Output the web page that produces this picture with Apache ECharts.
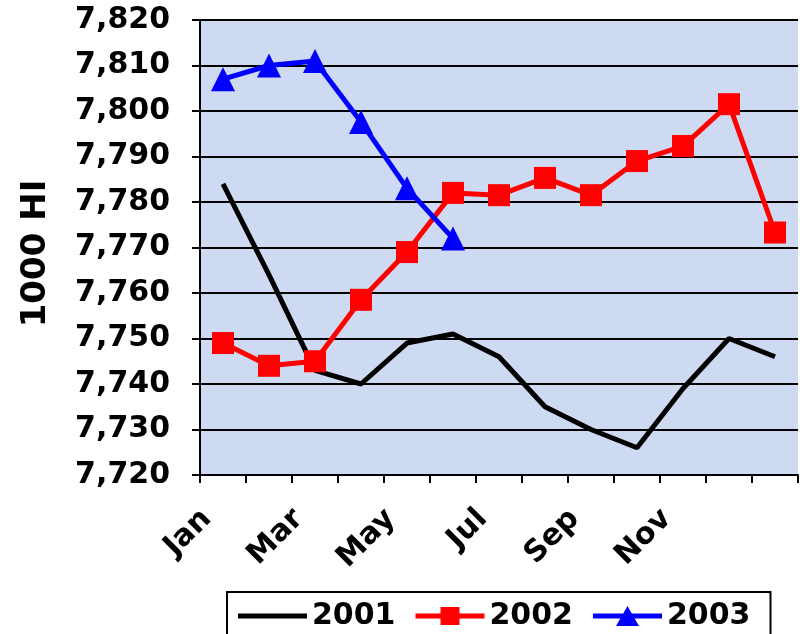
<!DOCTYPE html>
<html><head><meta charset="utf-8">
<script src="https://cdn.jsdelivr.net/npm/echarts@6/dist/echarts.min.js"></script>
<style>html,body{margin:0;padding:0;background:#fff}#c{width:800px;height:634px}</style>
</head><body><div id="c"></div>
<script>
const categories = ['Jan','Feb','Mar','Apr','May','Jun','Jul','Aug','Sep','Oct','Nov','Dec',''];
const s2001 = [7784, 7764, 7743, 7740, 7749, 7751, 7746, 7735, 7730, 7726, 7739, 7750, 7746];
const s2002 = [7749, 7744, 7745, 7758.5, 7769, 7782, 7781.5, 7785.3, 7781.5, 7789, 7792.3, 7801.5, 7773.3];
const s2003 = [7807, 7810, 7811, 7797.6, 7783, 7772];
const seriesNames = ['2001', '2002', '2003'];
const yMin = 7720, yMax = 7820, yStep = 10;
const yTitle = '1000 HI';

const font = 'DejaVu Sans';
// legend icons drawn in a 69x22 box (tiny corner dots keep the box size)
const box = 'M0,0h0.01v0.01h-0.01Z M69,22h-0.01v-0.01h0.01Z ';
const lineBar = 'M0,8.5H69V13.5H0Z ';
const icons = {
  '2001': 'path://' + box + lineBar,
  '2002': 'path://' + box + lineBar + 'M25,2H44V20H25Z',
  '2003': 'path://' + box + lineBar + 'M34.5,1L46,21L23,21Z'
};

const chart = echarts.init(document.getElementById('c'), null, {renderer: 'canvas'});
chart.setOption({
  animation: false,
  backgroundColor: '#ffffff',
  grid: {left: 200, top: 20, width: 598, height: 455, show: true, backgroundColor: '#cedaf2', borderWidth: 0},
  legend: {
    left: 227, top: 592, padding: [9, 20, 30, 11],
    borderColor: '#000', borderWidth: 2, itemWidth: 69, itemHeight: 22, itemGap: 20,
    symbolKeepAspect: false, selectedMode: false,
    textStyle: {fontSize: 30, fontWeight: 'bold', fontFamily: font, color: '#000'},
    data: seriesNames.map(n => ({name: n, icon: icons[n]}))
  },
  xAxis: {
    type: 'category', data: categories, boundaryGap: true,
    axisLine: {lineStyle: {color: '#000', width: 2}},
    axisTick: {show: true, interval: 0, length: 8, lineStyle: {color: '#000', width: 2}},
    axisLabel: {interval: 1, rotate: 45, margin: 23, padding: [0, 23, 0, 0],
      fontSize: 30, fontWeight: 'bold', fontFamily: font, color: '#000'},
    splitLine: {show: false}
  },
  yAxis: {
    type: 'value', min: yMin, max: yMax, interval: yStep,
    name: yTitle, nameLocation: 'middle', nameGap: 147, nameRotate: 90,
    nameTextStyle: {fontSize: 34, fontWeight: 'bold', fontFamily: font, color: '#000', padding: [0, 12, 0, 0]},
    axisLine: {show: true, lineStyle: {color: '#000', width: 2}},
    axisTick: {show: true, length: 8, lineStyle: {color: '#000', width: 2}},
    axisLabel: {margin: 30, fontSize: 30, fontWeight: 'bold', fontFamily: font, color: '#000',
      formatter: v => v.toLocaleString('en-US')},
    splitLine: {show: true, lineStyle: {color: '#000', width: 2}}
  },
  series: [
    {name: seriesNames[0], type: 'line', data: s2001, symbol: 'none', color: '#000',
      lineStyle: {color: '#000', width: 5}},
    {name: seriesNames[1], type: 'line', data: s2002, symbol: 'rect', symbolSize: 22, color: '#ff0000',
      lineStyle: {color: '#ff0000', width: 5}, itemStyle: {color: '#ff0000'}},
    {name: seriesNames[2], type: 'line', data: s2003, symbol: 'triangle', symbolSize: 24, color: '#0000ff',
      lineStyle: {color: '#0000ff', width: 5}, itemStyle: {color: '#0000ff'}}
  ]
});
</script></body></html>
